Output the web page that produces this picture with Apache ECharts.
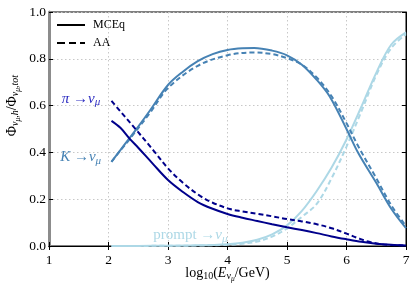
<!DOCTYPE html>
<html>
<head>
<meta charset="utf-8">
<script src="https://cdn.jsdelivr.net/npm/echarts@6/dist/echarts.min.js"></script>
<style>html,body{margin:0;padding:0;background:#fff}#c{width:416px;height:292px}</style>
</head>
<body>
<div id="c"></div>
<script>
// ---- data (x = log10(E/GeV), y = flux fraction) ----
const xTicks = [1, 2, 3, 4, 5, 6, 7];
const yTicks = [0.0, 0.2, 0.4, 0.6, 0.8, 1.0];

const pionMCEq = [[2.05,0.535],[2.2,0.505],[2.35,0.46],[2.5,0.42],[2.75,0.35],[3.0,0.282],[3.25,0.231],[3.5,0.188],[3.75,0.159],[4.0,0.137],[4.25,0.121],[4.5,0.107],[4.75,0.093],[5.0,0.08],[5.25,0.068],[5.5,0.055],[5.75,0.041],[6.0,0.029],[6.25,0.018],[6.5,0.01],[6.75,0.005],[7.0,0.002]];
const pionAA = [[2.05,0.62],[2.2,0.575],[2.42,0.51],[2.75,0.41],[3.0,0.332],[3.25,0.27],[3.54,0.214],[3.75,0.185],[4.04,0.158],[4.25,0.148],[4.5,0.138],[4.75,0.127],[5.0,0.115],[5.25,0.105],[5.5,0.093],[5.75,0.076],[6.0,0.053],[6.2,0.033],[6.35,0.02],[6.6,0.007],[7.0,0.002]];
const kaonMCEq = [[2.05,0.36],[2.2,0.41],[2.35,0.46],[2.5,0.51],[2.7,0.58],[3.0,0.688],[3.25,0.745],[3.5,0.79],[3.75,0.82],[4.0,0.838],[4.25,0.845],[4.45,0.846],[4.75,0.835],[5.0,0.815],[5.25,0.775],[5.5,0.71],[5.72,0.638],[6.0,0.5],[6.2,0.396],[6.5,0.27],[6.75,0.16],[7.0,0.076]];
const kaonAA = [[2.05,0.36],[2.2,0.408],[2.35,0.455],[2.7,0.57],[3.0,0.675],[3.5,0.77],[4.0,0.815],[4.45,0.827],[4.75,0.82],[5.0,0.803],[5.25,0.775],[5.5,0.72],[5.75,0.64],[6.0,0.525],[6.2,0.425],[6.5,0.29],[6.75,0.175],[7.0,0.085]];
const promptMCEq = [[2.05,0.0],[2.5,0.0005],[3.0,0.001],[3.5,0.003],[4.0,0.008],[4.25,0.014],[4.5,0.027],[4.75,0.05],[5.0,0.088],[5.25,0.15],[5.5,0.235],[5.75,0.335],[6.0,0.455],[6.25,0.595],[6.5,0.74],[6.75,0.86],[7.0,0.913]];
const promptAA = [[2.05,0.0],[2.5,0.0004],[3.0,0.0008],[3.5,0.002],[4.0,0.005],[4.25,0.01],[4.5,0.019],[4.75,0.04],[5.0,0.075],[5.25,0.125],[5.5,0.18],[5.75,0.29],[6.0,0.425],[6.25,0.575],[6.5,0.73],[6.75,0.845],[7.0,0.905]];

const legendNames = ['MCEq', 'AA'];
const labelPion = '{i|π}{n| →}{i|ν}{s|μ}';
const labelKaon = '{i|K}{n| →}{i|ν}{s|μ}';
const labelPrompt = '{n|prompt →}{i|ν}{s|μ}';
const yTitle = '{n|Φ}{s|ν}{ss|μ}{s|,h}{n|/Φ}{s|ν}{ss|μ}{s|,tot}';
const xTitle = '{n|log}{s|10}{n|(}{i|E}{s|ν}{ss|μ}{n|/GeV)}';
const pionAnchor = [1.86, 0.63];
const kaonAnchor = [1.875, 0.378];
const promptAnchor = [4.0, 0.047];

const colPion = '#00008b', colKaon = '#4682b4', colPrompt = '#add8e6';
const FONT = 'Liberation Serif';

const chart = echarts.init(document.getElementById('c'), null, {renderer: 'canvas'});
function lineSeries(name, data, color, dashed) {
  return {
    type: 'line', name: name, data: data, smooth: 0.35, showSymbol: false, symbol: 'none',
    lineStyle: {color: color, width: 2, type: dashed ? [5, 3] : 'solid'},
    itemStyle: {color: color}, silent: true, z: 3
  };
}
const richTxt = (color, size) => ({
  i: {fontFamily: FONT, fontStyle: 'italic', fontSize: size, fill: color},
  n: {fontFamily: FONT, fontSize: size, fill: color},
  s: {fontFamily: FONT, fontStyle: 'italic', fontSize: Math.round(size * 0.7), fill: color, padding: [8, 0, 0, 0]}
});

const axisCommon = {
  type: 'value', interval: 1,
  axisLine: {show: true, lineStyle: {color: '#000', width: 1}},
  axisTick: {show: true, inside: true, length: 4, lineStyle: {color: '#000'}},
  splitLine: {show: false}
};

chart.setOption({
  animation: false,
  backgroundColor: '#fff',
  grid: {left: 49, right: 10, top: 12, bottom: 46, show: true, borderColor: '#000', borderWidth: 1,
    containLabel: false, outerBoundsMode: 'none'},
  legend: {
    data: [
      {name: legendNames[0], icon: 'path://M0,0h28v2h-28z'},
      {name: legendNames[1], icon: 'path://M0,0h8v2h-8zM12,0h7v2h-7zM23,0h5v2h-5z'}
    ],
    orient: 'vertical', left: 52, top: 14, itemWidth: 28, itemHeight: 2, itemGap: 6,
    textStyle: {fontFamily: FONT, fontSize: 12, color: '#000', padding: [0, 0, 0, 3]}, selectedMode: false,
    itemStyle: {color: '#000', borderWidth: 0}
  },
  xAxis: [
    Object.assign({}, axisCommon, {
      min: 1, max: 7,
      axisLabel: {fontFamily: FONT, fontSize: 13.5, color: '#000', margin: 7,
        formatter: v => xTicks.indexOf(v) >= 0 ? String(v) : ''},
      splitLine: {show: true, lineStyle: {color: '#c8c8c8', type: [1.5, 2.5], width: 1}}
    }),
    Object.assign({}, axisCommon, {min: 1, max: 7, position: 'top', axisLabel: {show: false}})
  ],
  yAxis: [
    Object.assign({}, axisCommon, {
      min: 0, max: 1, interval: 0.2,
      axisLine: {show: true, lineStyle: {color: '#8c8c8c', width: 3}},
      axisLabel: {fontFamily: FONT, fontSize: 13.5, color: '#000', margin: 3,
        formatter: v => yTicks.some(t => Math.abs(t - v) < 1e-9) ? v.toFixed(1) : ''},
      splitLine: {show: true, lineStyle: {color: '#c8c8c8', type: [1.5, 2.5], width: 1}}
    }),
    Object.assign({}, axisCommon, {min: 0, max: 1, interval: 0.2, position: 'right', axisLabel: {show: false}})
  ],
  series: [
    lineSeries('prompt MCEq', promptMCEq, colPrompt, false),
    lineSeries('prompt AA', promptAA, colPrompt, true),
    lineSeries('K MCEq', kaonMCEq, colKaon, false),
    lineSeries('K AA', kaonAA, colKaon, true),
    lineSeries('pi MCEq', pionMCEq, colPion, false),
    lineSeries('pi AA', pionAA, colPion, true),
    {type: 'line', name: legendNames[0], data: [], symbol: 'none', lineStyle: {color: '#000', width: 2}, itemStyle: {color: '#000'}},
    {type: 'line', name: legendNames[1], data: [], symbol: 'none', lineStyle: {color: '#000', width: 2, type: [5, 3]}, itemStyle: {color: '#000'}}
  ]
});

function placeLabels() {
  const p = a => chart.convertToPixel({gridIndex: 0}, a);
  const mk = (txt, anchor, color) => {
    const pt = p(anchor);
    return {type: 'text', x: pt[0], y: pt[1], silent: true, z: 10,
      style: {text: txt, rich: richTxt(color, 15), align: 'right', verticalAlign: 'middle'}};
  };
  const tl = p([1, 0.6]);
  const bl = p([4, 0]);
  chart.setOption({graphic: [
    mk(labelPion, pionAnchor, '#2a2ac0'),
    mk(labelKaon, kaonAnchor, colKaon),
    mk(labelPrompt, promptAnchor, colPrompt),
    {type: 'text', x: tl[0] - 37, y: tl[1], rotation: Math.PI / 2, silent: true,
      style: {text: yTitle, align: 'center', verticalAlign: 'middle', rich: {
        n: {fontFamily: FONT, fontSize: 14, fill: '#000'},
        s: {fontFamily: FONT, fontStyle: 'italic', fontSize: 10, fill: '#000', padding: [7, 0, 0, 0]},
        ss: {fontFamily: FONT, fontStyle: 'italic', fontSize: 7.5, fill: '#000', padding: [12, 0, 0, 0]}
      }}},
    {type: 'text', x: bl[0], y: bl[1] + 27, silent: true,
      style: {text: xTitle, align: 'center', verticalAlign: 'middle', rich: {
        n: {fontFamily: FONT, fontSize: 14, fill: '#000'},
        i: {fontFamily: FONT, fontStyle: 'italic', fontSize: 14, fill: '#000'},
        s: {fontFamily: FONT, fontSize: 10, fill: '#000', padding: [7, 0, 0, 0]},
        ss: {fontFamily: FONT, fontStyle: 'italic', fontSize: 7.5, fill: '#000', padding: [12, 0, 0, 0]}
      }}}
  ]});
}
placeLabels();
</script>
</body>
</html>
